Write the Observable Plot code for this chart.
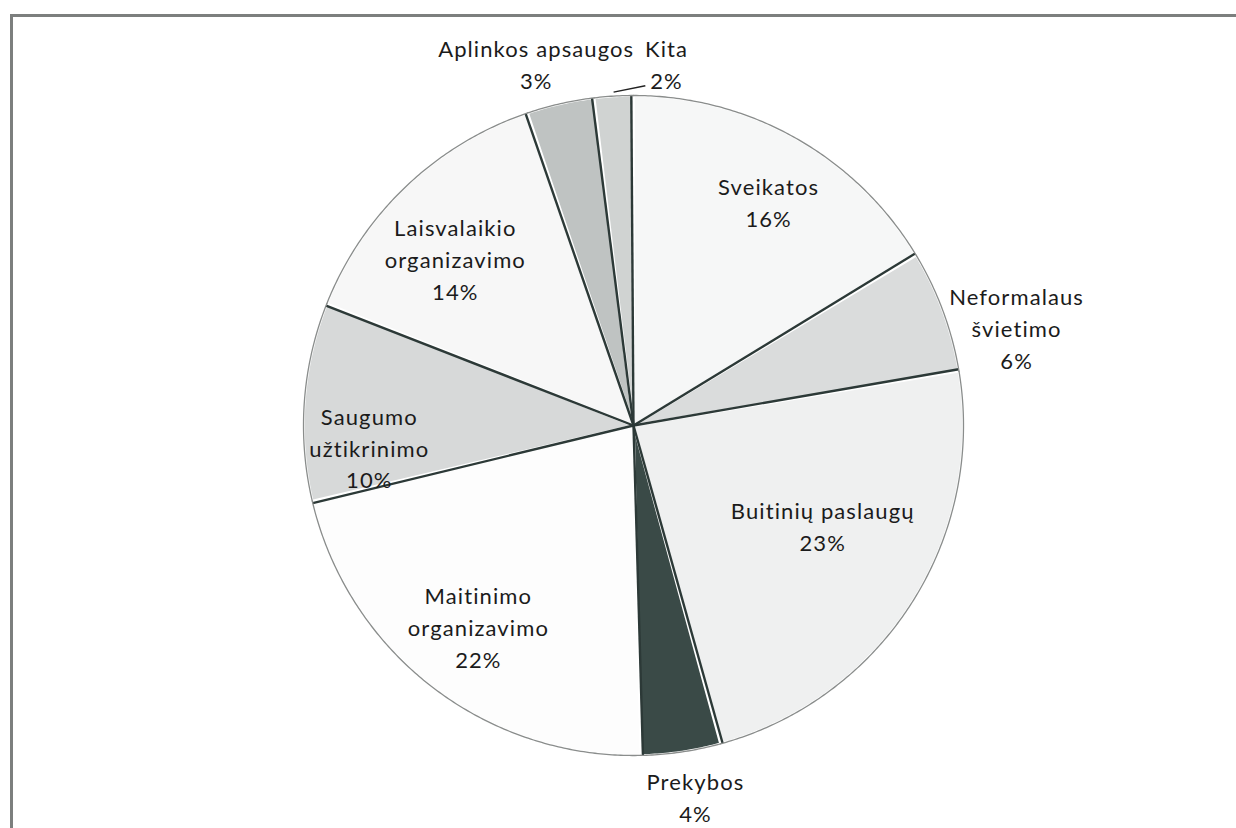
<!DOCTYPE html>
<html><head><meta charset="utf-8">
<script src="https://cdn.jsdelivr.net/npm/d3@7"></script>
<script src="https://cdn.jsdelivr.net/npm/@observablehq/plot@0.6"></script>
<style>
html,body{margin:0;padding:0;background:#fff;overflow:hidden}
svg text{letter-spacing:1.1px;font-variant-ligatures:none;font-feature-settings:"liga" 0,"clig" 0}
</style>
</head><body><div id="chart"></div>
<script>
// ---- data (clockwise from 12 o'clock) ----
const categories = ["Sveikatos", "Neformalaus\nšvietimo", "Buitinių paslaugų", "Prekybos", "Maitinimo\norganizavimo", "Saugumo\nužtikrinimo", "Laisvalaikio\norganizavimo", "Aplinkos apsaugos", "Kita"];
const shares = [16.4, 6.0, 23.4, 3.9, 21.7, 9.7, 13.8, 3.3, 1.9];
const percentLabels = ["16%", "6%", "23%", "4%", "22%", "10%", "14%", "3%", "2%"];

// ---- styles / layout (kept separate from data) ----
const palette = ["#f6f7f7", "#dadcdc", "#eff0f0", "#3a4a47", "#fdfdfd", "#d7d9d9", "#f7f7f7", "#bfc3c2", "#d0d3d2"];
// label anchor in polar form: [radius (pie radius = 1), angle in degrees clockwise from top]
const labelPolar = [[0.795, 31.0], [1.199, 75.5], [0.647, 117.6], [1.137, 170.5], [0.767, 217.8], [0.803, 265.5], [0.742, 313.3], [1.139, 345.0], [1.105, 5.2]];

const W = 1236, H = 828, cx = 633, cy = 425, R = 330;
const total = d3.sum(shares);
const rad = d => d * Math.PI / 180;
const pt = (r, a) => ({x: r * Math.sin(a), y: r * Math.cos(a)});

let acc = 0;
const slices = shares.map((v, i) => {
  const a0 = acc / total * 2 * Math.PI;
  acc += v;
  const a1 = acc / total * 2 * Math.PI;
  return {i, name: categories[i], a0, a1, color: palette[i]};
});

const sliceMarks = slices.map(s => {
  const n = Math.max(4, Math.ceil((s.a1 - s.a0) / rad(0.5)));
  const pts = [pt(0, 0)];
  for (let k = 0; k <= n; k++) pts.push(pt(1, s.a0 + (s.a1 - s.a0) * k / n));
  return Plot.line(pts, {x: "x", y: "y", curve: "linear-closed", fill: s.color, stroke: "#ffffff", strokeWidth: 2.5});
});

const arcMarks = slices.map(s => {
  const n = Math.max(4, Math.ceil((s.a1 - s.a0) / rad(0.5)));
  const pts = [];
  for (let k = 0; k <= n; k++) pts.push(pt(1, s.a0 + (s.a1 - s.a0) * k / n));
  return Plot.line(pts, {x: "x", y: "y", stroke: "#8a8d8c", strokeWidth: 1.3});
});

// dark bevel line on the trailing edge of each slice
const edges = slices.map(s => {
  const a = s.a1 - 2.2 / R;
  const p = pt(1, a);
  return {x1: 0, y1: 0, x2: p.x, y2: p.y};
});

const labels = slices.map((s, i) => {
  const [r, deg] = labelPolar[i];
  const p = pt(r, rad(deg));
  return {x: p.x, y: p.y, text: categories[i] + "\n" + percentLabels[i]};
});

// leader line for the small "Kita" slice
const kita = slices[8];
const kMid = (kita.a0 + kita.a1) / 2;
const l0 = pt(1.012, kMid), l1 = pt(1.03, rad(2.0));
const leader = [{x1: l0.x, y1: l0.y, x2: l1.x, y2: l1.y}];

const chart = Plot.plot({
  width: W, height: H, margin: 0,
  x: {domain: [-cx / R, (W - cx) / R], axis: null},
  y: {domain: [-(H - cy) / R, cy / R], axis: null},
  style: {background: "#fff", overflow: "visible"},
  marks: [
    Plot.frame({stroke: "#7c7f7e", strokeWidth: 3, insetLeft: 11, insetTop: 15, insetRight: -30, insetBottom: -30}),
    ...sliceMarks,
    Plot.link(edges, {x1: "x1", y1: "y1", x2: "x2", y2: "y2", stroke: "#2c3937", strokeWidth: 2.4}),
    ...arcMarks,
    Plot.link(leader, {x1: "x1", y1: "y1", x2: "x2", y2: "y2", stroke: "#222", strokeWidth: 1.5}),
    Plot.text(labels, {x: "x", y: "y", text: "text", fontSize: 22, lineHeight: 1.45, fontFamily: "Lato, 'Open Sans', sans-serif", fill: "#1b1b1b", textAnchor: "middle"})
  ]
});
document.getElementById("chart").appendChild(chart);
</script>
</body></html>
